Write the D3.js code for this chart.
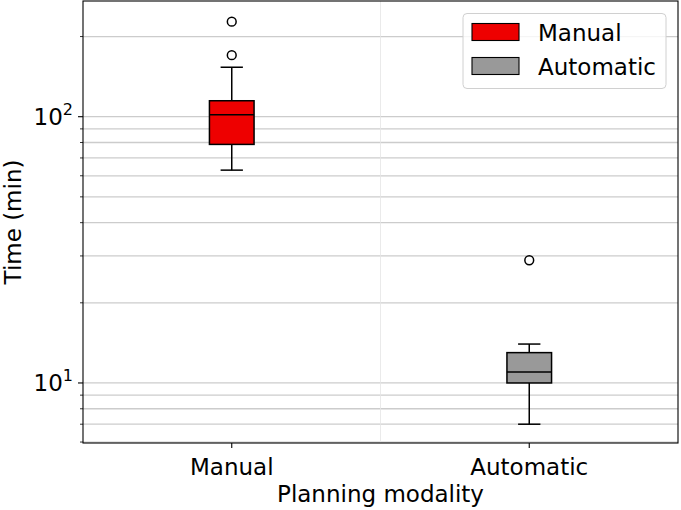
<!DOCTYPE html>
<html>
<head>
<meta charset="utf-8">
<script src="https://d3js.org/d3.v7.min.js"></script>
<style>
  body { margin: 0; background: #fff; }
  svg text { font-family: "DejaVu Sans", sans-serif; }
</style>
</head>
<body>
<div id="chart"></div>
<script>
// data
var categories = ["Manual", "Automatic"];
var colors = ["#ee0000", "#999999"];
var whiskLow = [63.0, 7.0];
var q1 = [78.7, 10.0];
var median = [101.7, 11.0];
var q3 = [114.8, 13.0];
var whiskHigh = [153.4, 14.0];
var outliers = [[170.2, 227.5], [28.9]];
var majorTicks = [10, 100];
var minorTicks = [6, 7, 8, 9, 20, 30, 40, 50, 60, 70, 80, 90, 200];

var margin = {top: 1, right: 3, bottom: 67, left: 83};
var width = 681 - margin.left - margin.right,
    height = 510 - margin.top - margin.bottom;

var svg = d3.select("#chart")
  .append("svg")
  .attr("width", 681)
  .attr("height", 510);

var chart = svg.append("g")
  .attr("transform", "translate(" + margin.left + "," + margin.top + ")");

var x = d3.scaleLinear().domain([0.5, 2.5]).range([0, width]);
var y = d3.scaleLog().domain([5.95, 272]).range([height, 0]);

// horizontal grid, major + minor
chart.append("g")
  .selectAll("line")
  .data(majorTicks.concat(minorTicks))
  .enter().append("line")
  .attr("x1", 0).attr("x2", width)
  .attr("y1", function(d) { return y(d); })
  .attr("y2", function(d) { return y(d); })
  .attr("stroke", "#cccccc")
  .attr("stroke-width", 1.3);

// faint vertical line between the groups
chart.append("line")
  .attr("x1", x(1.5)).attr("x2", x(1.5))
  .attr("y1", 0).attr("y2", height)
  .attr("stroke", "#e4e4e4")
  .attr("stroke-width", 0.8);

var boxW = x(1.15) - x(1);
var capW = boxW / 2;

var boxes = chart.append("g")
  .selectAll("g")
  .data(categories)
  .enter().append("g");

// whiskers
boxes.append("line")
  .attr("x1", function(d, i) { return x(i + 1); })
  .attr("x2", function(d, i) { return x(i + 1); })
  .attr("y1", function(d, i) { return y(whiskLow[i]); })
  .attr("y2", function(d, i) { return y(q1[i]); })
  .attr("stroke", "#000").attr("stroke-width", 1.5);
boxes.append("line")
  .attr("x1", function(d, i) { return x(i + 1); })
  .attr("x2", function(d, i) { return x(i + 1); })
  .attr("y1", function(d, i) { return y(q3[i]); })
  .attr("y2", function(d, i) { return y(whiskHigh[i]); })
  .attr("stroke", "#000").attr("stroke-width", 1.5);

// caps
[whiskLow, whiskHigh].forEach(function(arr) {
  boxes.append("line")
    .attr("x1", function(d, i) { return x(i + 1) - capW / 2; })
    .attr("x2", function(d, i) { return x(i + 1) + capW / 2; })
    .attr("y1", function(d, i) { return y(arr[i]); })
    .attr("y2", function(d, i) { return y(arr[i]); })
    .attr("stroke", "#000").attr("stroke-width", 1.5);
});

// box
boxes.append("rect")
  .attr("x", function(d, i) { return x(i + 1) - boxW / 2; })
  .attr("y", function(d, i) { return y(q3[i]); })
  .attr("width", boxW)
  .attr("height", function(d, i) { return y(q1[i]) - y(q3[i]); })
  .attr("fill", function(d, i) { return colors[i]; })
  .attr("stroke", "#000").attr("stroke-width", 1.5);

// median
boxes.append("line")
  .attr("x1", function(d, i) { return x(i + 1) - boxW / 2; })
  .attr("x2", function(d, i) { return x(i + 1) + boxW / 2; })
  .attr("y1", function(d, i) { return y(median[i]); })
  .attr("y2", function(d, i) { return y(median[i]); })
  .attr("stroke", "#000").attr("stroke-width", 1.5);

// fliers
boxes.selectAll("circle")
  .data(function(d, i) { return outliers[i].map(function(v) { return {i: i, v: v}; }); })
  .enter().append("circle")
  .attr("cx", function(d) { return x(d.i + 1); })
  .attr("cy", function(d) { return y(d.v); })
  .attr("r", 4.4)
  .attr("fill", "none")
  .attr("stroke", "#000").attr("stroke-width", 1.5);

// y axis
var yAxis = chart.append("g");
yAxis.selectAll("line.minor")
  .data(minorTicks)
  .enter().append("line")
  .attr("x1", -3).attr("x2", 0)
  .attr("y1", function(d) { return y(d); })
  .attr("y2", function(d) { return y(d); })
  .attr("stroke", "#000").attr("stroke-width", 0.8);
yAxis.selectAll("line.major")
  .data(majorTicks)
  .enter().append("line")
  .attr("x1", -5).attr("x2", 0)
  .attr("y1", function(d) { return y(d); })
  .attr("y2", function(d) { return y(d); })
  .attr("stroke", "#000").attr("stroke-width", 1.1);
var lbl = yAxis.selectAll("text")
  .data(majorTicks)
  .enter().append("text")
  .attr("x", -10)
  .attr("y", function(d) { return y(d) + 8.5; })
  .attr("text-anchor", "end")
  .attr("font-size", "23px")
  .attr("fill", "#000");
lbl.append("tspan").text("10");
lbl.append("tspan")
  .attr("dy", -10)
  .attr("font-size", "16px")
  .text(function(d) { return Math.round(Math.log10(d)); });

// x axis
var xAxis = chart.append("g").attr("transform", "translate(0," + height + ")");
xAxis.selectAll("line")
  .data(categories)
  .enter().append("line")
  .attr("x1", function(d, i) { return x(i + 1); })
  .attr("x2", function(d, i) { return x(i + 1); })
  .attr("y1", 0).attr("y2", 5)
  .attr("stroke", "#000").attr("stroke-width", 1.1);
xAxis.selectAll("text")
  .data(categories)
  .enter().append("text")
  .attr("x", function(d, i) { return x(i + 1); })
  .attr("y", 32)
  .attr("text-anchor", "middle")
  .attr("font-size", "23px")
  .attr("fill", "#000")
  .text(function(d) { return d; });

// frame
chart.append("rect")
  .attr("x", 0).attr("y", 0)
  .attr("width", width).attr("height", height)
  .attr("fill", "none")
  .attr("stroke", "#000").attr("stroke-width", 1.1);

// axis titles
svg.append("text")
  .attr("x", margin.left + width / 2)
  .attr("y", 502)
  .attr("text-anchor", "middle")
  .attr("font-size", "23px")
  .text("Planning modality");

svg.append("text")
  .attr("transform", "translate(21," + (margin.top + height / 2) + ") rotate(-90)")
  .attr("text-anchor", "middle")
  .attr("font-size", "23px")
  .text("Time (min)");

// legend
var legend = svg.append("g").attr("transform", "translate(463,13.5)");
legend.append("rect")
  .attr("width", 203).attr("height", 75)
  .attr("rx", 4)
  .attr("fill", "#fff")
  .attr("fill-opacity", 0.8)
  .attr("stroke", "#d0d0d0")
  .attr("stroke-width", 1);
var items = legend.selectAll("g.item")
  .data(categories)
  .enter().append("g")
  .attr("transform", function(d, i) { return "translate(9," + (10 + i * 34) + ")"; });
items.append("rect")
  .attr("width", 47).attr("height", 17)
  .attr("fill", function(d, i) { return colors[i]; })
  .attr("stroke", "#000").attr("stroke-width", 1.1);
items.append("text")
  .attr("x", 66).attr("y", 17)
  .attr("font-size", "23px")
  .text(function(d) { return d; });
</script>
</body>
</html>
